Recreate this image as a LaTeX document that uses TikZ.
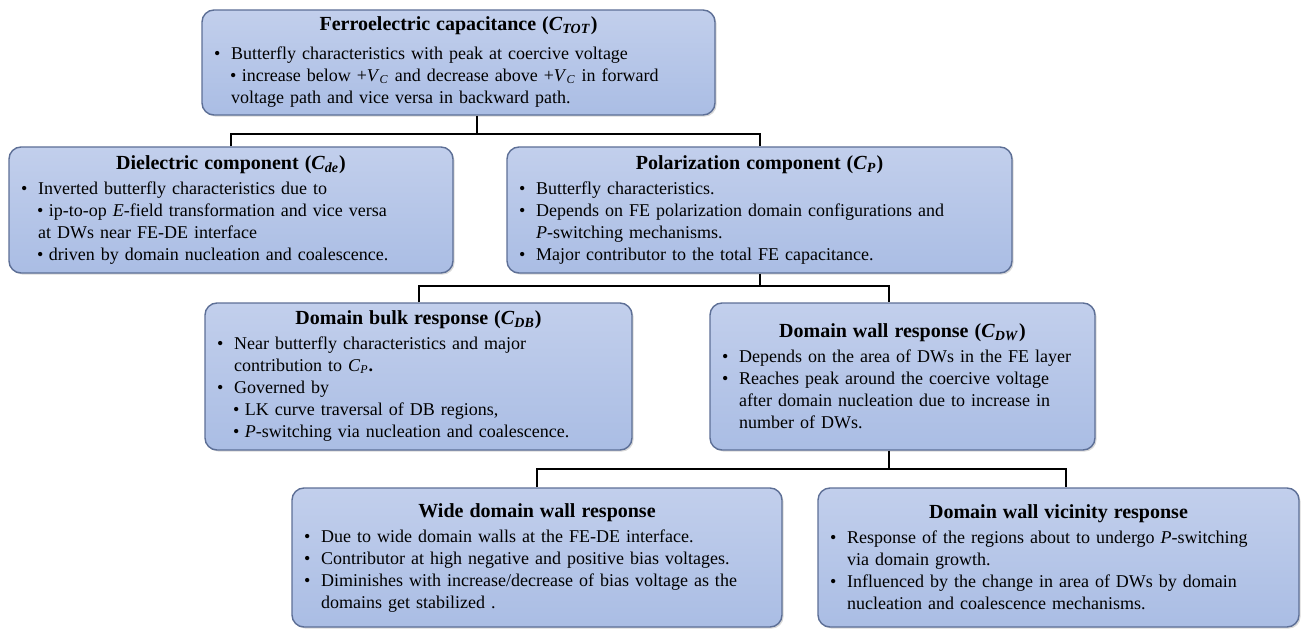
\documentclass[tikz,border=0pt]{standalone}
\usepackage{fontspec}
\setmainfont{Liberation Serif}
\usetikzlibrary{shadows}
\definecolor{cardtop}{HTML}{C2CFEC}
\definecolor{cardfill}{HTML}{AABDE4}
\definecolor{cardedge}{HTML}{5D6F96}
\newcommand{\capof}[1]{\textit{C}\textsubscript{\textit{#1}}}
\newcommand{\ttl}[1]{\noindent\makebox[\linewidth][c]{\fontsize{10}{12}\selectfont\bfseries #1}\par\vskip1.5pt}
\newcommand{\bul}[1]{\hangindent=0.95em\hangafter=1\noindent\makebox[0.95em][l]{\textbullet}#1\par}
\newcommand{\subbul}[1]{\hangindent=0.95em\hangafter=1\noindent\hspace*{0.9em}\makebox[0.65em][l]{\textbullet}#1\par}

\begin{document}
\begin{tikzpicture}[
  x=0.5pt,
  y=-0.5pt,
  every node/.style={font=\fontsize{9}{11}\selectfont},
  card/.style={draw=cardedge, line width=0.7pt, rounded corners=6pt,
               top color=cardtop, bottom color=cardfill,
               drop shadow={shadow xshift=0.8pt, shadow yshift=-0.8pt, opacity=0.3},
               inner xsep=6pt, inner ysep=2pt, align=left},
  link/.style={black, line width=1pt}
]
  % ---- page ------------------------------------------------------------
  \useasboundingbox (0,0) rectangle (1301,631);

  % ---- top level -------------------------------------------------------
  \node[card, text width=244.5pt, minimum height=52.5pt] (tot) at (458.5,62.5) {%
    \ttl{Ferroelectric capacitance (\capof{TOT})}\vskip2pt%
    \bul{Butterfly characteristics with peak at coercive voltage}%
    \subbul{increase below +\textit{V}\textsubscript{\textit{C}} and decrease
      above +\textit{V}\textsubscript{\textit{C}} in forward\newline
      voltage path and vice versa in backward path.}};

  % ---- second level ----------------------------------------------------
  \node[card, text width=210pt, minimum height=63pt] (de) at (231,210) {%
    \ttl{Dielectric component (\capof{de})}%
    \bul{Inverted butterfly characteristics due to}%
    \subbul{ip-to-op \textit{E}-field transformation and vice versa\newline
      at DWs near FE-DE interface}%
    \subbul{driven by domain nucleation and coalescence.}};

  \node[card, text width=240.5pt, minimum height=63pt] (pol) at (759.5,210) {%
    \ttl{Polarization component (\capof{P})}%
    \bul{Butterfly characteristics.}%
    \bul{Depends on FE polarization domain configurations and\newline
      \textit{P}-switching mechanisms.}%
    \bul{Major contributor to the total FE capacitance.}};

  % ---- third level -----------------------------------------------------
  \node[card, text width=201.5pt, minimum height=73.5pt] (bulk) at (418.5,376.5) {%
    \ttl{Domain bulk response (\capof{DB})}%
    \bul{Near butterfly characteristics and major\newline
      contribution to \capof{P}\textbf{.}}%
    \bul{Governed by}%
    \subbul{LK curve traversal of DB regions,}%
    \subbul{\textit{P}-switching via nucleation and coalescence.}};

  \node[card, text width=180.5pt, minimum height=73.5pt] (dw) at (902.5,376.5) {%
    \ttl{Domain wall response (\capof{DW})}%
    \bul{Depends on the area of DWs in the FE layer}%
    \bul{Reaches peak around the coercive voltage\newline
      after domain nucleation due to increase in\newline
      number of DWs.}\vskip4pt};

  % ---- fourth level ----------------------------------------------------
  \node[card, text width=233pt, minimum height=69.5pt] (wide) at (537,557.5) {%
    \ttl{Wide domain wall response}%
    \bul{Due to wide domain walls at the FE-DE interface.}%
    \bul{Contributor at high negative and positive bias voltages.}%
    \bul{Diminishes with increase/decrease of bias voltage as the\newline
      domains get stabilized .}};

  \node[card, text width=228.5pt, minimum height=69.5pt] (vic) at (1058.5,557.5) {%
    \ttl{Domain wall vicinity response}%
    \bul{Response of the regions about to undergo \textit{P}-switching\newline
      via domain growth.}%
    \bul{Influenced by the change in area of DWs by domain\newline
      nucleation and coalescence mechanisms.}};

  % ---- connectors ------------------------------------------------------
  \draw[link] ([xshift=9.25pt]tot.south) -- ++(0,18);
  \draw[link] (de.north) |- ([xshift=9.25pt,yshift=-9pt]tot.south) -| (pol.north);

  \draw[link] (pol.south) -- ++(0,12);
  \draw[link] (bulk.north) |- ([yshift=-6pt]pol.south) -| ([xshift=-7pt]dw.north);

  \draw[link] ([xshift=-7pt]dw.south) -- ++(0,18);
  \draw[link] (wide.north) |- ([xshift=-7pt,yshift=-9pt]dw.south) -| ([xshift=3.75pt]vic.north);

\end{tikzpicture}
\end{document}
